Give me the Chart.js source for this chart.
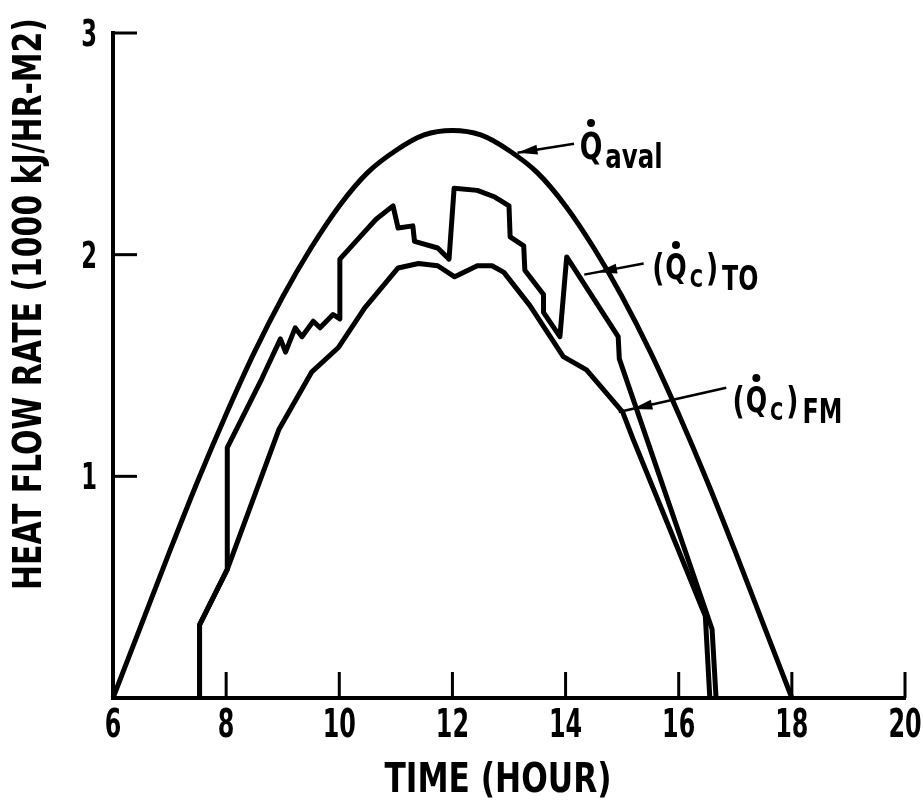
<!DOCTYPE html>
<html>
<head>
<meta charset="utf-8">
<title>Heat flow rate</title>
<script src="https://cdn.jsdelivr.net/npm/chart.js@4.4.1/dist/chart.umd.min.js"></script>
<style>
  body { margin: 0; background: #fff; }
  #wrap { width: 923px; height: 811px; }
</style>
</head>
<body>
<div id="wrap"><canvas id="chart" width="923" height="811"></canvas></div>
<script>
// Q aval (available heat flow), read every half hour
var availT = [6, 6.5, 7, 7.5, 8, 8.5, 9, 9.5, 10, 10.5, 11, 11.5, 12,
              12.5, 13, 13.5, 14, 14.5, 15, 15.5, 16, 16.5, 17, 17.5, 18];
var availQ = [0, 0.33, 0.66, 0.98, 1.28, 1.56, 1.81, 2.03, 2.22, 2.37, 2.47, 2.54, 2.56,
              2.54, 2.47, 2.37, 2.22, 2.03, 1.81, 1.56, 1.28, 0.98, 0.66, 0.33, 0];

// (Q c) TO
var toT = [7.53, 7.53, 8.02, 8.02, 8.63, 8.96, 9.05, 9.22, 9.34, 9.54, 9.66, 9.89, 10.01, 10.01,
           10.33, 10.65, 10.95, 11.04, 11.30, 11.33, 11.74, 11.94, 12.03, 12.44, 12.75, 13.00,
           13.02, 13.26, 13.28, 13.61, 13.61, 13.90, 14.02, 14.93, 14.95, 16.59, 16.66];
var toQ = [0, 0.33, 0.58, 1.13, 1.44, 1.62, 1.56, 1.67, 1.63, 1.70, 1.67, 1.73, 1.71, 1.98,
           2.07, 2.16, 2.22, 2.12, 2.13, 2.06, 2.03, 1.98, 2.30, 2.29, 2.26, 2.22,
           2.08, 2.04, 1.93, 1.82, 1.74, 1.63, 1.99, 1.63, 1.53, 0.31, 0];

// (Q c) FM
var fmT = [7.53, 7.53, 8.02, 8.93, 9.51, 9.98, 10.45, 11.04, 11.40, 11.74, 12.04, 12.44,
           12.70, 12.91, 13.37, 13.96, 14.37, 15.01, 15.19, 16.47, 16.55];
var fmQ = [0, 0.33, 0.58, 1.21, 1.47, 1.58, 1.76, 1.94, 1.96, 1.95, 1.90, 1.95,
           1.95, 1.92, 1.77, 1.54, 1.48, 1.29, 1.17, 0.37, 0];

var xTicks = [6, 8, 10, 12, 14, 16, 18, 20];
var yTicks = [1, 2, 3];

// curve labels: text anchor, arrow tail and tip (hours, 1000 kJ/hr-m2)
var labelNames = ['aval', 'TO', 'FM'];
var labelAt   = [[14.25, 2.43], [15.53, 1.88], [16.95, 1.28]];
var arrowTail = [[14.15, 2.50], [15.38, 1.96], [16.84, 1.40]];
var arrowTip  = [[13.15, 2.46], [14.33, 1.91], [14.94, 1.29]];

var FONT = "'DejaVu Sans Condensed', 'DejaVu Sans', sans-serif";
Chart.defaults.font.family = FONT;
Chart.defaults.color = '#000';

function pairs(xs, ys) {
  return xs.map(function (x, i) { return { x: x, y: ys[i] }; });
}

function curve(data, smooth) {
  return {
    data: data,
    showLine: true,
    borderColor: '#000',
    borderWidth: 5,
    pointRadius: 0,
    tension: smooth ? 0.4 : 0,
    cubicInterpolationMode: smooth ? 'monotone' : 'default',
    borderJoinStyle: 'round',
    clip: false
  };
}

// narrow lettering: squeeze text horizontally by sx
function narrowText(ctx, text, x, y, size, sx, align) {
  ctx.save();
  ctx.translate(x, y);
  ctx.scale(sx, 1);
  ctx.font = 'bold ' + size + 'px ' + FONT;
  ctx.textAlign = align || 'left';
  ctx.fillText(text, 0, 0);
  var w = ctx.measureText(text).width * sx;
  ctx.restore();
  return w;
}

function fitText(ctx, text, x, y, size, width, rot) {
  ctx.save();
  ctx.font = 'bold ' + size + 'px ' + FONT;
  var sx = width / ctx.measureText(text).width;
  ctx.translate(x, y);
  ctx.rotate(rot || 0);
  ctx.scale(sx, 1);
  ctx.textAlign = 'center';
  ctx.textBaseline = 'middle';
  ctx.fillText(text, 0, 0);
  ctx.restore();
}

function arrow(ctx, x1, y1, x2, y2, back) {
  var ang = Math.atan2(y2 - y1, x2 - x1);
  ctx.beginPath();
  ctx.moveTo(x1, y1);
  ctx.lineTo(x2, y2);
  ctx.stroke();
  var hx = x2 - Math.cos(ang) * back, hy = y2 - Math.sin(ang) * back;
  ctx.beginPath();
  ctx.moveTo(hx, hy);
  ctx.lineTo(hx - Math.cos(ang) * 20 + Math.sin(ang) * 5, hy - Math.sin(ang) * 20 - Math.cos(ang) * 5);
  ctx.lineTo(hx - Math.cos(ang) * 20 - Math.sin(ang) * 5, hy - Math.sin(ang) * 20 + Math.cos(ang) * 5);
  ctx.closePath();
  ctx.fill();
}

function qdot(ctx, x, y, size, sx) {
  // Q with the time-derivative dot over it
  var w = narrowText(ctx, 'Q', x, y, size, sx);
  ctx.beginPath();
  ctx.arc(x + w / 2, y - size * 0.98, 4, 0, Math.PI * 2);
  ctx.fill();
  return w;
}

var overlay = {
  id: 'overlay',
  afterDraw: function (chart) {
    var ctx = chart.ctx, xs = chart.scales.x, ys = chart.scales.y;
    ctx.save();
    ctx.strokeStyle = '#000';
    ctx.fillStyle = '#000';

    // inward tick marks and tick labels
    ctx.lineWidth = 3;
    xs.ticks.forEach(function (t) {
      var px = xs.getPixelForValue(t.value);
      if (t.value !== xs.min) {
        ctx.beginPath();
        ctx.moveTo(px, ys.bottom);
        ctx.lineTo(px, ys.bottom - 26);
        ctx.stroke();
      }
      narrowText(ctx, String(t.value), px, ys.bottom + 39, 39, 0.68, 'center');
    });
    ys.ticks.forEach(function (t) {
      if (t.value === 0) return;
      var py = ys.getPixelForValue(t.value);
      ctx.beginPath();
      ctx.moveTo(xs.left, py);
      ctx.lineTo(xs.left + 24, py);
      ctx.stroke();
      narrowText(ctx, String(t.value), xs.left - 16, py + 13, 37, 0.68, 'right');
    });

    // axis titles
    fitText(ctx, 'HEAT FLOW RATE (1000 kJ/HR-M2)', 31, 304, 39, 572, -Math.PI / 2);
    fitText(ctx, 'TIME (HOUR)', 498, 782, 40, 227, 0);

    // arrows
    ctx.lineWidth = 2.5;
    var backs = [0, 13, 14];
    for (var i = 0; i < labelNames.length; i++) {
      arrow(ctx,
        xs.getPixelForValue(arrowTail[i][0]), ys.getPixelForValue(arrowTail[i][1]),
        xs.getPixelForValue(arrowTip[i][0]), ys.getPixelForValue(arrowTip[i][1]), backs[i]);
    }

    // curve labels
    var sx = 0.8;
    for (var j = 0; j < labelNames.length; j++) {
      var x = xs.getPixelForValue(labelAt[j][0]);
      var y = ys.getPixelForValue(labelAt[j][1]);
      if (labelNames[j] === 'aval') {
        var w = qdot(ctx, x, y, 37, sx);
        narrowText(ctx, 'aval', x + w + 3, y + 9, 34, sx);
      } else {
        var px = x;
        px += narrowText(ctx, '(', px, y, 37, sx) + 1;
        px += qdot(ctx, px, y - 2, 35, sx) + 3;
        px += narrowText(ctx, 'C', px, y + 6, 25, sx) + 3;
        px += narrowText(ctx, ')', px, y, 37, sx) + 4;
        narrowText(ctx, labelNames[j], px, y + 9, 33, sx);
      }
    }
    ctx.restore();
  }
};

new Chart(document.getElementById('chart').getContext('2d'), {
  type: 'scatter',
  data: {
    datasets: [
      curve(pairs(availT, availQ), true),
      curve(pairs(toT, toQ), false),
      curve(pairs(fmT, fmQ), false)
    ]
  },
  options: {
    responsive: false,
    animation: false,
    devicePixelRatio: 1,
    layout: { padding: { top: 33, right: 18, left: 0, bottom: 0 } },
    plugins: { legend: { display: false }, tooltip: { enabled: false } },
    scales: {
      x: {
        type: 'linear',
        min: 6,
        max: 20,
        grid: { display: false },
        border: { display: true, color: '#000', width: 4 },
        ticks: { stepSize: 2, display: false },
        afterFit: function (s) { s.height = 113; }
      },
      y: {
        type: 'linear',
        min: 0,
        max: 3,
        grid: { display: false },
        border: { display: true, color: '#000', width: 4 },
        ticks: { stepSize: 1, display: false },
        afterFit: function (s) { s.width = 113; }
      }
    }
  },
  plugins: [overlay]
});
</script>
</body>
</html>
